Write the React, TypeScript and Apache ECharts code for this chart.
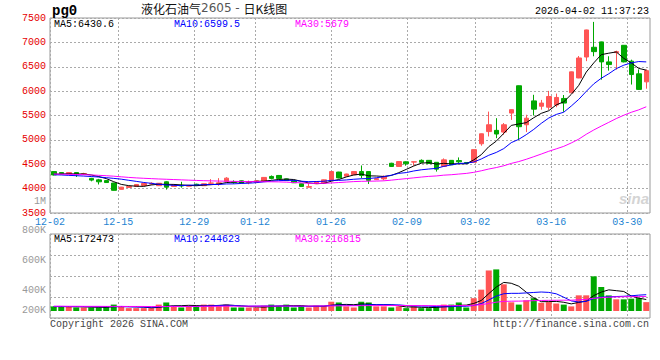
import React, { useEffect, useRef } from 'react';
import * as echarts from 'echarts';

const dates = [
  '12-02','12-03','12-04','12-05','12-08','12-09','12-10','12-11','12-12','12-15',
  '12-16','12-17','12-18','12-19','12-22','12-23','12-24','12-25','12-26','12-29',
  '12-30','12-31','01-05','01-06','01-07','01-08','01-09','01-12','01-13','01-14',
  '01-15','01-16','01-19','01-20','01-21','01-22','01-23','01-26','01-27','01-28',
  '01-29','01-30','02-02','02-03','02-04','02-05','02-06','02-09','02-10','02-11',
  '02-12','02-13','02-24','02-25','02-26','02-27','03-02','03-03','03-04','03-05',
  '03-06','03-09','03-10','03-11','03-12','03-13','03-16','03-17','03-18','03-19',
  '03-20','03-23','03-24','03-25','03-26','03-27','03-30','03-31','04-01','04-02'
];

const labelDates = ['12-02','12-15','12-29','01-12','01-26','02-09','03-02','03-16','03-30'];

const opens = [
  4350,4330,4305,4330,4300,4210,4180,4165,4115,3985,
  4025,4045,4065,4095,4060,4140,4045,4065,4050,4090,
  4060,4110,4100,4150,4135,4160,4125,4130,4150,4250,
  4270,4200,4160,4100,4030,4100,4115,4170,4340,4255,
  4285,4350,4350,4185,4200,4520,4455,4550,4545,4580,
  4580,4540,4455,4580,4575,4535,4540,4920,5170,5195,
  5160,5550,6110,5310,5800,5690,5670,5715,5850,5965,
  6270,6700,6900,7010,6600,6790,6940,6615,6355,6190
];
const closes = [
  4280,4305,4330,4285,4305,4175,4140,4125,3965,4030,
  4045,4085,4105,4110,4110,4030,4075,4055,4065,4070,
  4100,4115,4120,4215,4130,4115,4130,4160,4230,4210,
  4210,4165,4120,4045,4040,4145,4180,4350,4220,4300,
  4350,4270,4170,4205,4250,4455,4555,4510,4550,4540,
  4515,4400,4590,4490,4550,4515,4800,5125,5310,5120,
  5310,5620,5270,5445,5630,5755,5890,5870,5755,6395,
  6680,7255,6810,6600,6545,6810,6600,6340,6035,6420
];
const lows = [
  4270,4300,4300,4240,4285,4150,4085,4120,3960,3980,
  4020,4040,4060,4080,4055,3980,4040,4020,4045,4060,
  4055,4075,4060,4145,4100,4110,4090,4125,4145,4190,
  4200,4160,4115,4040,4025,4095,4110,4165,4210,4250,
  4280,4215,4095,4175,4170,4445,4450,4470,4470,4535,
  4510,4350,4450,4485,4510,4510,4535,4880,5070,5035,
  5105,5410,5000,5160,5500,5620,5615,5670,5575,5960,
  6265,6615,6715,6235,6420,6440,6590,6135,6030,6050
];
const highs = [
  4360,4335,4335,4335,4325,4220,4200,4170,4120,4035,
  4050,4090,4115,4130,4115,4150,4090,4140,4075,4100,
  4105,4195,4215,4235,4170,4165,4165,4165,4235,4270,
  4280,4205,4165,4105,4110,4150,4185,4355,4345,4305,
  4355,4475,4355,4215,4270,4530,4560,4560,4555,4600,
  4585,4545,4620,4585,4640,4540,4805,5130,5580,5445,
  5345,5625,6115,5515,5925,5820,6005,5950,5920,6400,
  6720,7260,7420,7015,6715,6830,6945,6645,6445,6445
];

const ma5 = [
  4295,4300,4305,4300,4301,4280,4247,4206,4142,4087,
  4061,4050,4046,4075,4091,4088,4086,4076,4067,4059,
  4073,4081,4094,4124,4136,4139,4142,4150,4153,4169,
  4188,4195,4187,4150,4116,4103,4106,4152,4187,4239,
  4280,4298,4262,4259,4249,4270,4327,4395,4464,4522,
  4534,4503,4519,4507,4509,4509,4589,4696,4860,4974,
  5133,5297,5326,5353,5455,5544,5598,5718,5780,5933,
  6118,6391,6579,6748,6778,6804,6673,6579,6466,6430.6
];
const ma10 = [
  4285,4280,4272,4265,4258,4248,4238,4225,4210,4194,
  4171,4149,4126,4109,4089,4075,4068,4061,4071,4075,
  4081,4084,4085,4096,4098,4106,4112,4122,4139,4153,
  4164,4169,4169,4152,4143,4146,4151,4170,4169,4178,
  4192,4202,4207,4223,4244,4275,4313,4329,4362,4386,
  4402,4415,4457,4486,4516,4522,4546,4608,4684,4742,
  4821,4943,5011,5107,5215,5339,5448,5522,5567,5694,
  5831,5995,6149,6264,6356,6461,6532,6579,6607,6599.5
];
const ma30 = [
  4300,4297,4293,4290,4286,4280,4273,4265,4255,4242,
  4230,4220,4212,4205,4198,4192,4186,4180,4174,4168,
  4163,4159,4155,4152,4149,4147,4145,4143,4141,4140,
  4138,4133,4126,4118,4109,4108,4109,4116,4125,4134,
  4144,4150,4152,4155,4160,4174,4190,4205,4221,4237,
  4251,4260,4276,4285,4299,4312,4334,4366,4402,4432,
  4469,4517,4555,4602,4655,4709,4766,4816,4867,4937,
  5015,5115,5203,5283,5359,5437,5505,5566,5616,5679
];

const volumes = [
  69000,69000,69000,53000,53000,53000,53000,69000,96000,69000,
  43000,43000,43000,43000,96000,128000,80000,53000,69000,80000,
  96000,96000,80000,96000,53000,53000,53000,53000,80000,96000,
  80000,96000,53000,80000,53000,80000,80000,139000,128000,69000,
  53000,139000,128000,69000,69000,53000,69000,43000,69000,43000,
  43000,69000,96000,96000,128000,53000,192000,320000,608000,624000,
  400000,130000,96000,160000,192000,123000,133000,112000,96000,69000,
  235000,235000,520000,360000,234000,175000,175000,185000,194000,133000
];
const volMa5 = [
  66000,66000,65000,64000,63000,59000,56000,56000,65000,68000,
  66000,64000,59000,48000,54000,71000,78000,80000,85000,82000,
  76000,79000,84000,90000,84000,76000,67000,62000,58000,67000,
  72000,81000,81000,81000,72000,72000,69000,86000,96000,99000,
  94000,106000,103000,92000,92000,92000,78000,61000,61000,55000,
  53000,53000,64000,69000,86000,88000,113000,158000,260000,359000,
  429000,416000,372000,282000,196000,140000,141000,144000,131000,107000,
  129000,149000,231000,284000,317000,305000,293000,226000,193000,172473
];
const volMa10 = [
  68000,68000,67000,67000,66000,66000,65000,65000,65000,65000,
  63000,60000,58000,57000,61000,68000,71000,69000,67000,68000,
  73000,78000,82000,87000,83000,76000,73000,73000,74000,76000,
  74000,74000,71000,70000,70000,72000,75000,84000,89000,86000,
  83000,87000,95000,94000,95000,93000,92000,82000,76000,74000,
  73000,66000,62000,65000,71000,71000,83000,111000,165000,223000,
  259000,265000,265000,271000,278000,285000,279000,258000,207000,151000,
  135000,145000,188000,208000,212000,217000,221000,228000,238000,244623
];
const volMa30 = [
  72000,72000,71000,71000,70000,70000,70000,69000,69000,69000,
  68000,68000,68000,67000,67000,68000,68000,68000,69000,69000,
  70000,70000,71000,72000,72000,72000,72000,73000,73000,73000,
  74000,74000,74000,74000,74000,75000,75000,76000,77000,78000,
  79000,80000,81000,81000,82000,82000,82000,82000,82000,81000,
  80000,80000,80000,80000,81000,81000,86000,95000,113000,132000,
  144000,147000,148000,151000,155000,158000,160000,161000,162000,162000,
  168000,174000,190000,200000,207000,211000,214000,215000,216000,216815
];

const priceMin = 3500;
const priceMax = 7500;
const priceStep = 500;
const volLabelMin = 200000;
const volLabelMax = 1000000;
const volLabelStep = 200000;

const MONO = '"Liberation Mono", "DejaVu Sans Mono", monospace';
const UP = '#ff5555';
const DOWN = '#00a800';
const GRID_LINE = { color: '#aaaaaa', type: [2, 2] as any, width: 1 };

export default function App() {
  const ref = useRef<HTMLDivElement>(null);

  useEffect(() => {
    if (!ref.current) return;
    const chart = echarts.init(ref.current, undefined, { renderer: 'svg' });
    const isLabel = (i: number) => labelDates.indexOf(dates[i]) >= 0;
    const last = (a: number[]) => a[a.length - 1];

    const option: any = {
      animation: false,
      backgroundColor: '#ffffff',
      grid: [
        { left: 50, top: 18, width: 600, height: 195, show: true, borderColor: '#999', borderWidth: 1 },
        { left: 50, top: 234, width: 600, height: 84, show: true, borderColor: '#999', borderWidth: 1 },
        { left: 50, top: 201, width: 600, height: 119, show: false }
      ],
      xAxis: [
        { type: 'category', gridIndex: 0, position: 'top', data: dates, boundaryGap: true, show: false },
        {
          type: 'category', gridIndex: 0, position: 'bottom', data: dates, boundaryGap: false,
          axisLine: { show: false }, axisTick: { show: false },
          axisLabel: { interval: (i: number) => isLabel(i), color: '#1e84d2', fontSize: 10, fontFamily: MONO, margin: 4 },
          splitLine: { show: true, interval: (i: number) => isLabel(i), lineStyle: GRID_LINE }
        },
        { type: 'category', gridIndex: 1, position: 'top', data: dates, boundaryGap: true, show: false },
        {
          type: 'category', gridIndex: 1, position: 'bottom', data: dates, boundaryGap: false,
          axisLine: { show: false }, axisTick: { show: false }, axisLabel: { show: false },
          splitLine: { show: true, interval: (i: number) => isLabel(i), lineStyle: GRID_LINE }
        },
        { type: 'category', gridIndex: 2, data: dates, show: false }
      ],
      yAxis: [
        {
          type: 'value', gridIndex: 0, position: 'left', min: priceMin, max: priceMax, interval: priceStep,
          axisLine: { show: false }, axisTick: { show: false },
          axisLabel: { color: '#e60000', fontSize: 10, fontFamily: MONO, margin: 4, padding: [0, 0, 3, 0], formatter: (v: number) => String(v) },
          splitLine: { show: true, lineStyle: GRID_LINE }
        },
        { type: 'value', gridIndex: 1, position: 'right', min: -105000, max: 1155000, show: false },
        {
          type: 'value', gridIndex: 1, position: 'left', min: 0, max: 4, interval: 1,
          axisLine: { show: false }, axisTick: { show: false }, axisLabel: { show: false },
          splitLine: { show: true, lineStyle: GRID_LINE }
        },
        {
          type: 'value', gridIndex: 2, position: 'left', min: volLabelMin, max: volLabelMax, interval: volLabelStep,
          axisLine: { show: false }, axisTick: { show: false }, splitLine: { show: false },
          axisLabel: {
            color: '#999999', fontSize: 10, fontFamily: MONO, margin: 4,
            formatter: (v: number) => {
              const t = v >= 1000000 ? v / 1000000 + 'M' : v / 1000 + 'K';
              return v === volLabelMin ? '{s|' + t + '}' : t;
            },
            rich: { s: { color: '#999999', fontSize: 10, fontFamily: MONO, padding: [0, 0, 19, 0] } }
          }
        }
      ],
      series: [
        {
          type: 'candlestick', xAxisIndex: 0, yAxisIndex: 0, barWidth: 5,
          data: opens.map((o, i) => [o, closes[i], lows[i], highs[i]]),
          itemStyle: { color: UP, color0: DOWN, borderColor: UP, borderColor0: DOWN, borderWidth: 1 }
        },
        { type: 'line', xAxisIndex: 0, yAxisIndex: 0, data: ma5, symbol: 'none', lineStyle: { color: '#000000', width: 1 } },
        { type: 'line', xAxisIndex: 0, yAxisIndex: 0, data: ma10, symbol: 'none', lineStyle: { color: '#0000ff', width: 1 } },
        { type: 'line', xAxisIndex: 0, yAxisIndex: 0, data: ma30, symbol: 'none', lineStyle: { color: '#ff00ff', width: 1 } },
        {
          type: 'bar', xAxisIndex: 2, yAxisIndex: 1, barWidth: 6,
          data: volumes.map((v, i) => ({ value: v, itemStyle: { color: closes[i] >= opens[i] ? UP : DOWN } }))
        },
        { type: 'line', xAxisIndex: 2, yAxisIndex: 1, data: volMa5, symbol: 'none', lineStyle: { color: '#000000', width: 1 } },
        { type: 'line', xAxisIndex: 2, yAxisIndex: 1, data: volMa10, symbol: 'none', lineStyle: { color: '#0000ff', width: 1 } },
        { type: 'line', xAxisIndex: 2, yAxisIndex: 1, data: volMa30, symbol: 'none', lineStyle: { color: '#ff00ff', width: 1 } }
      ],
      graphic: [
        { type: 'text', x: 52, y: 11, style: { text: 'pg0', font: 'bold 14px ' + MONO, fill: '#000', textVerticalAlign: 'middle' } },
        {
          type: 'text', x: 141, y: 8,
          style: {
            text: '{a|液化石油气}{b|2605 - }{a|日K线图}',
            textVerticalAlign: 'middle',
            rich: {
              a: { font: '12px "Noto Sans CJK SC"', fill: '#111' },
              b: { font: '12px "DejaVu Sans"', fill: '#555' }
            }
          }
        },
        { type: 'text', x: 649, y: 11.5, style: { text: '2026-04-02 11:37:23', font: '10px ' + MONO, fill: '#000', textAlign: 'right', textVerticalAlign: 'middle' } },
        { type: 'text', x: 54, y: 24, style: { text: 'MA5:' + last(ma5), font: '10px ' + MONO, fill: '#000', textVerticalAlign: 'middle' } },
        { type: 'text', x: 174, y: 24, style: { text: 'MA10:' + last(ma10), font: '10px ' + MONO, fill: '#0000ff', textVerticalAlign: 'middle' } },
        { type: 'text', x: 295, y: 24, style: { text: 'MA30:' + last(ma30), font: '10px ' + MONO, fill: '#ff00ff', textVerticalAlign: 'middle' } },
        { type: 'text', x: 54, y: 239.5, style: { text: 'MA5:' + last(volMa5), font: '10px ' + MONO, fill: '#000', textVerticalAlign: 'middle' } },
        { type: 'text', x: 174, y: 239.5, style: { text: 'MA10:' + last(volMa10), font: '10px ' + MONO, fill: '#0000ff', textVerticalAlign: 'middle' } },
        { type: 'text', x: 295, y: 239.5, style: { text: 'MA30:' + last(volMa30), font: '10px ' + MONO, fill: '#ff00ff', textVerticalAlign: 'middle' } },
        { type: 'text', x: 50, y: 324.5, style: { text: 'Copyright 2026 SINA.COM', font: '10px ' + MONO, fill: '#444', textVerticalAlign: 'middle' } },
        { type: 'text', x: 649, y: 324.5, style: { text: 'http://finance.sina.com.cn', font: '10px ' + MONO, fill: '#444', textAlign: 'right', textVerticalAlign: 'middle' } },
        { type: 'text', x: 619, y: 198, style: { text: 'sina', font: 'italic bold 15px "Liberation Sans"', fill: '#d4d4d4', textVerticalAlign: 'middle' } }
      ]
    };
    chart.setOption(option);
    return () => chart.dispose();
  }, []);

  return <div ref={ref} style={{ position: 'fixed', left: 0, top: 0, width: 660, height: 360, background: '#fff' }} />;
}
